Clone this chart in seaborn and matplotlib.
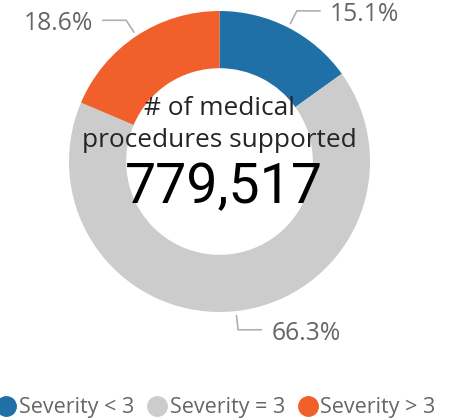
import numpy as np
import matplotlib
matplotlib.use('Agg')
import matplotlib.pyplot as plt
import seaborn as sns
from matplotlib.lines import Line2D

categories = ['Severity < 3', 'Severity = 3', 'Severity > 3']
shares = [15.1, 66.3, 18.6]
share_labels = ['15.1%', '66.3%', '18.6%']
total_label = '779,517'
center_title = ['# of medical', 'procedures supported']
colors = ['#1F70A6', '#CCCCCC', '#F15F2A']

sns.set_theme(style='white')
plt.rcParams['font.family'] = ['Open Sans', 'DejaVu Sans']

W, H = 463, 420
fig = plt.figure(figsize=(W / 100, H / 100), dpi=100)
R = 150.5
L = 1.15
s = R * L
cx, cy = 219.5, 161.5
ax = fig.add_axes([(cx - s) / W, (H - cy - s) / H, 2 * s / W, 2 * s / H])

wedges, _ = ax.pie(shares, colors=colors, startangle=90, counterclock=False,
                   radius=1, wedgeprops=dict(width=0.38, edgecolor='none'))
ax.set_xlim(-L, L)
ax.set_ylim(-L, L)
ax.set_aspect('equal')
ax.axis('off')

# leader lines and labels
for w, lab in zip(wedges, share_labels):
    mid = np.deg2rad((w.theta1 + w.theta2) / 2)
    c, sn = np.cos(mid), np.sin(mid)
    x0, y0 = 1.03 * c, 1.03 * sn
    x1, y1 = 1.125 * c, 1.125 * sn
    d = 1 if c >= 0 else -1
    x2 = x1 + d * 0.155
    ax.plot([x0, x1, x2], [y0, y1, y1], color='#B0B0B0', lw=1.2, clip_on=False,
            solid_joinstyle='miter')
    ax.text(x2 + d * 0.065, y1 - 0.022, lab, ha='left' if d > 0 else 'right',
            va='center', fontsize=17.8, color='#666666', clip_on=False)

# center text
ax.text(0, 0.309, center_title[0], ha='center', va='baseline', fontsize=18.9,
        color='#252525')
ax.text(0, 0.096, center_title[1], ha='center', va='baseline', fontsize=18.9,
        color='#252525')
ax.text(0.028, -0.276, total_label, ha='center', va='baseline', fontsize=40,
        color='black', family=['Roboto', 'DejaVu Sans'])

handles = [Line2D([], [], marker='o', ls='', markersize=14,
                  markerfacecolor=c, markeredgecolor=c) for c in colors]
fig.legend(handles, categories, loc='center', bbox_to_anchor=(216 / W, 1 - 408 / H),
           ncol=3, frameon=False, handletextpad=0.15, columnspacing=0.6,
           handlelength=0.9, fontsize=15.5, labelcolor='#666666',
           borderaxespad=0, borderpad=0)

fig.savefig('out.png', dpi=100)
